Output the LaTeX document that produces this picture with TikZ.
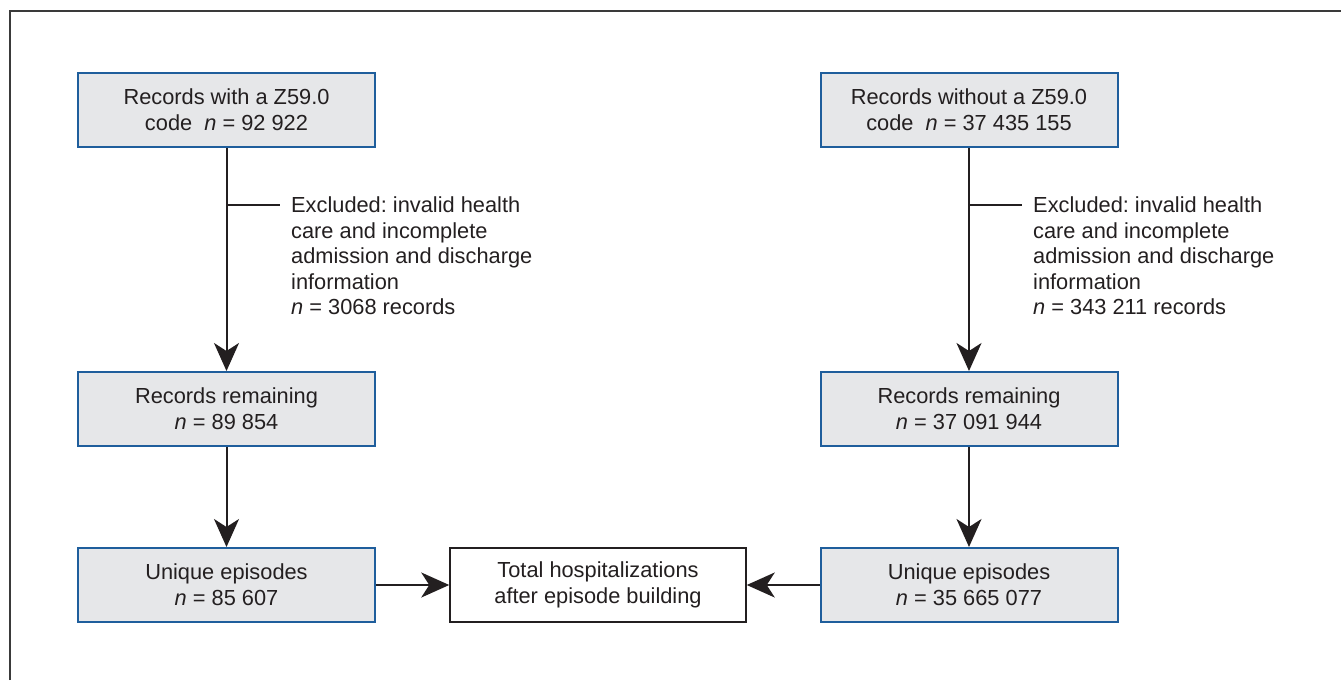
\documentclass[tikz,border=0pt]{standalone}
\usepackage{fontspec}
\setmainfont{Liberation Sans}
\usetikzlibrary{arrows.meta,calc}
\definecolor{boxfill}{HTML}{E6E7E9}
\definecolor{boxline}{HTML}{1F5E9C}
\definecolor{ink}{HTML}{231F20}
\definecolor{frame}{HTML}{3A3A3A}
\frenchspacing
\begin{document}
\begin{tikzpicture}[x=1pt,y=-1pt,
  every node/.style={font=\fontsize{21.8}{26}\selectfont, text=ink},
  box/.style={draw=boxline, fill=boxfill, line width=2pt, minimum width=297pt, minimum height=74pt, align=center, inner sep=0pt},
  total/.style={draw=ink, fill=white, line width=1.5pt, minimum width=296pt, minimum height=74pt, align=center, inner sep=0pt},
  note/.style={align=left, anchor=north west, inner xsep=11pt, inner ysep=0pt, font=\fontsize{21.8}{25.4}\selectfont},
  conn/.style={draw=ink, line width=2pt},
  arr/.style={conn, -{Stealth[length=28pt,width=25pt,inset=8pt]}}]
\useasboundingbox (0,0) rectangle (1341,680);
\draw[frame, line width=2pt] (10,680) -- (10,11) -- (1341,11);

\node[box] (t1) at (226.5,110) {Records with a Z59.0\\code~~\textit{n} = 92 922};
\node[box] (t2) at (969,110) {Records without a Z59.0\\code~~\textit{n} = 37 435 155};
\node[box] (r1) at (226.5,409) {Records remaining\\\textit{n} = 89 854};
\node[box] (r2) at (969,409) {Records remaining\\\textit{n} = 37 091 944};
\node[box] (u1) at (226.5,585) {Unique episodes\\\textit{n} = 85 607};
\node[box] (u2) at (969,585) {Unique episodes\\\textit{n} = 35 665 077};
\node[total] (tot) at (598,585) {Total hospitalizations\\after episode building};

\node[note] (e1) at (280,196.8) {Excluded: invalid health\\care and incomplete\\admission and discharge\\information\\\textit{n} = 3068 records};
\node[note] (e2) at (1022,196.8) {Excluded: invalid health\\care and incomplete\\admission and discharge\\information\\\textit{n} = 343 211 records};

\coordinate (b1) at (t1.south |- 0,205);
\coordinate (b2) at (t2.south |- 0,205);

\draw[arr] (t1) -- (r1);
\draw[arr] (t2) -- (r2);
\draw[arr] (r1) -- (u1);
\draw[arr] (r2) -- (u2);
\draw[arr] (u1) -- (tot);
\draw[arr] (u2) -- (tot);
\draw[conn] (b1) -- (b1 -| e1.west);
\draw[conn] (b2) -- (b2 -| e2.west);
\end{tikzpicture}
\end{document}
